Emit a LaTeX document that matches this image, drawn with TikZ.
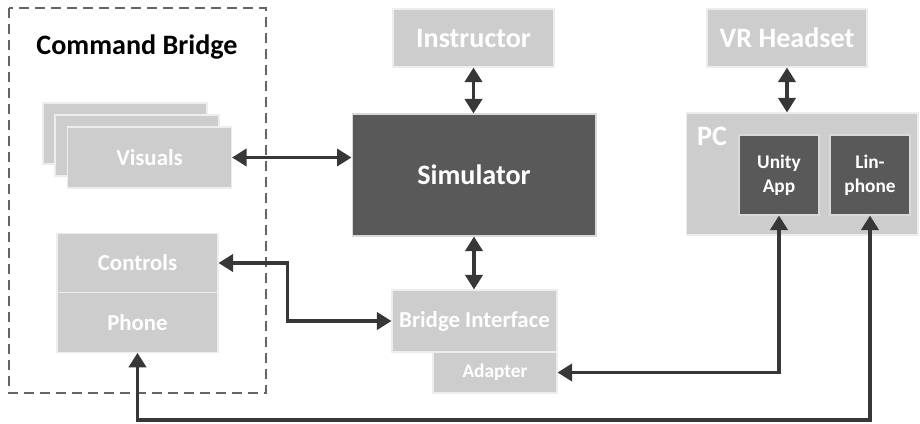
\documentclass[tikz,border=0pt]{standalone}
\usepackage{fontspec}
\setmainfont{Carlito}
\usetikzlibrary{arrows.meta,calc}
\definecolor{lightbox}{RGB}{205,205,205}
\definecolor{darkbox}{RGB}{89,89,89}
\definecolor{wire}{RGB}{55,55,55}
\definecolor{frame}{RGB}{100,100,100}
\newcommand{\bigtxt}{\bfseries\fontsize{16}{19}\selectfont}
\newcommand{\midtxt}{\bfseries\fontsize{13}{15}\selectfont}
\newcommand{\smalltxt}{\bfseries\fontsize{11}{13.5}\selectfont}

\begin{document}
\begin{tikzpicture}[x=0.02cm,y=-0.02cm,
	light/.style={draw=white!93!black,line width=0.6pt,fill=lightbox,text=white,inner sep=0pt,align=center},
	dark/.style={draw=white!85!black,line width=0.6pt,fill=darkbox,text=white,inner sep=0pt,align=center},
	link/.style={draw=wire,line width=2.1pt,{Triangle[length=0.29cm,width=0.34cm]}-{Triangle[length=0.29cm,width=0.34cm]}}]
	\useasboundingbox (0,0) rectangle (920,423);
	% command bridge frame
	\draw[frame,line width=1.5pt,dash pattern=on 0.2cm off 0.12cm] (9,8) rectangle (266,393);
	\node (cbtitle) at (137,47) {\bigtxt Command Bridge};
	\node[light,minimum width=3.28cm,minimum height=1.22cm] (vis1) at (125,133.5) {};
	\node[light,minimum width=3.28cm,minimum height=1.22cm] (vis2) at (137,145.5) {};
	\node[light,minimum width=3.28cm,minimum height=1.22cm,font=\midtxt] (vis3) at (149.5,157.5) {Visuals};
	\node[light,minimum width=3.22cm,minimum height=1.19cm,font=\midtxt] (ctrl) at (137.5,263) {Controls};
	\node[light,minimum width=3.22cm,minimum height=1.19cm,font=\midtxt] (phone) at (137.5,322.5) {Phone};
	% simulator side
	\node[light,minimum width=3.22cm,minimum height=1.16cm,font=\bigtxt] (instr) at (473.5,38) {Instructor};
	\node[dark,minimum width=4.88cm,minimum height=2.44cm,font=\bigtxt] (sim) at (474,175) {Simulator};
	\node[light,minimum width=2.48cm,minimum height=0.82cm,font=\smalltxt] (ada) at (495,372.5) {Adapter};
	\node[light,minimum width=3.3cm,minimum height=1.24cm,font=\midtxt] (bi) at (474.5,321) {Bridge Interface};
	% vr side
	\node[light,minimum width=3.2cm,minimum height=1.16cm,font=\bigtxt] (vr) at (787,38) {VR Headset};
	\node[light,minimum width=4.64cm,minimum height=2.44cm] (pc) at (802,174) {};
	\node[text=white,font=\bigtxt] (pclabel) at (712,136) {PC};
	\node[dark,minimum width=1.6cm,minimum height=1.6cm,font=\smalltxt] (unity) at (779,175) {Unity\\App};
	\node[dark,minimum width=1.6cm,minimum height=1.6cm,font=\smalltxt] (lin) at (870,175) {Lin-\\phone};
	% connections
	\draw[link] (instr.south) -- (instr.south |- sim.north);
	\draw[link] (vr.south) -- (vr.south |- pc.north);
	\draw[link] (vis3.east) -- (vis3.east -| sim.west);
	\draw[link] (sim.south) -- (sim.south |- bi.north);
	\draw[link] (bi.west) -- ++(-104,0) |- (ctrl.east);
	\draw[link] (ada.east) -| (unity.south);
	\coordinate (floor) at (0,420);
	\draw[link] (phone.south) -- (phone.south |- floor) -| (lin.south);
\end{tikzpicture}
\end{document}
